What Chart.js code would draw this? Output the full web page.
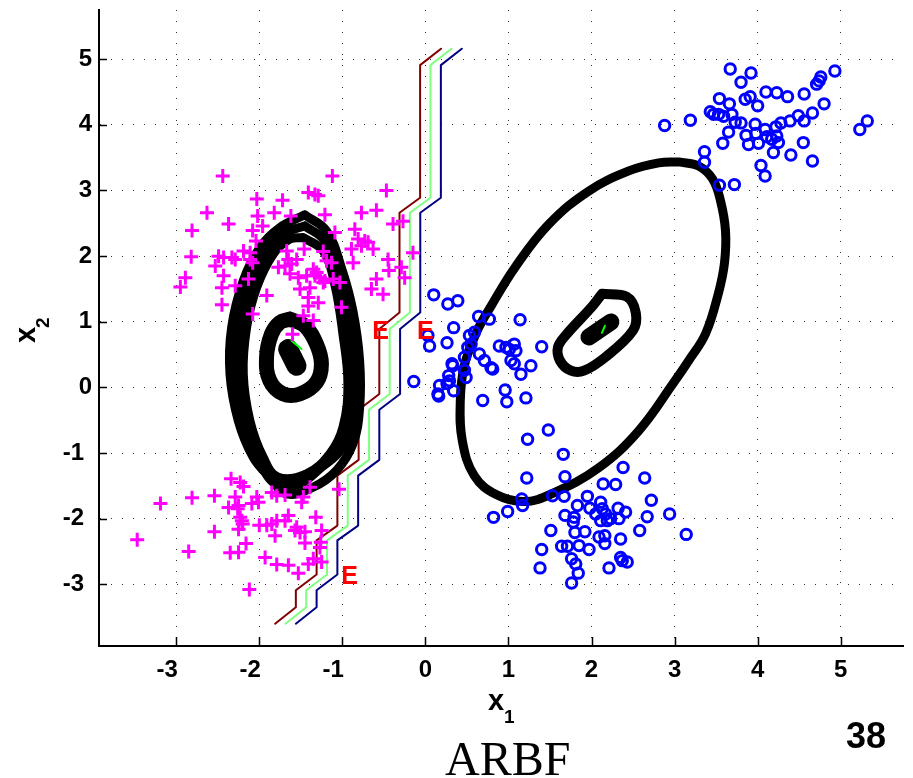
<!DOCTYPE html>
<html>
<head>
<meta charset="utf-8">
<script src="https://cdn.jsdelivr.net/npm/chart.js@4.4.1/dist/chart.umd.min.js"></script>
<style>
    html, body { margin: 0; padding: 0; background: #fff; }
    #wrap { width: 913px; height: 778px; }
</style>
</head>
<body>
<div id="wrap"><canvas id="myChart" width="913" height="778"></canvas></div>
<script>
// Osie
var xTicks = [-3, -2, -1, 0, 1, 2, 3, 4, 5];
var yTicks = [-3, -2, -1, 0, 1, 2, 3, 4, 5];
var xRange = [-3.93, 5.75];
var yRange = [-3.94, 5.75];

// Klasa 1 (+)
var plusUpper = [
    [-2.44,3.22],[-1.12,3.22],[-0.47,3.0],[-1.41,2.97],[-1.33,2.94],[-1.29,2.92],[-2.03,2.87],[-1.72,2.85],
    [-2.63,2.66],[-1.82,2.66],[-1.62,2.61],[-2.02,2.61],[-1.21,2.63],[-0.77,2.66],[-0.59,2.70],[-2.37,2.49],
    [-1.96,2.46],[-0.39,2.49],[-0.27,2.53],[-2.81,2.39],[-2.08,2.39],[-0.85,2.41],[-1.09,2.36],[-2.04,2.23],
    [-0.81,2.26],[-0.73,2.23],[-0.69,2.21],[-0.77,2.16],[-0.63,2.11],[-0.89,2.11],[-1.23,2.07],[-1.46,2.11],
    [-1.67,2.08],[-2.19,2.08],[-2.11,2.05],[-2.82,1.99],[-2.49,2.0],[-2.43,1.98],[-2.33,1.98],[-2.29,1.95],
    [-2.11,1.95],[-2.08,1.90],[-1.65,1.95],[-1.55,1.95],[-1.19,1.93],[-1.13,1.90],[-0.87,1.90],[-0.45,1.95],
    [-0.44,1.78],[-0.29,1.83],[-0.25,1.67],[-0.15,2.05],[-2.53,1.85],[-1.77,1.83],[-1.69,1.85],[-1.61,1.88],
    [-1.35,1.80],[-1.31,1.75],[-1.33,1.70],[-1.27,1.67],[-1.43,1.70],[-1.53,1.67],[-1.63,1.73],[-1.21,1.62],
    [-1.11,1.65],[-1.03,1.60],[-2.43,1.70],[-2.89,1.67],[-2.95,1.53],[-2.45,1.52],[-2.29,1.55],[-2.13,1.65],
    [-1.51,1.50],[-1.39,1.52],[-1.23,1.60],[-0.65,1.50],[-0.59,1.65],[-0.51,1.42],[-1.91,1.40],[-2.45,1.26],
    [-1.41,1.37],[-1.29,1.29],[-1.41,1.24],[-1.01,1.22],[-2.08,1.12],[-1.47,1.09],[-1.35,1.02],[-1.60,0.81]
];
var plusLower = [
    [-2.34,-1.39],[-2.23,-1.45],[-2.19,-1.51],[-3.19,-1.77],[-2.81,-1.68],[-2.54,-1.65],[-2.29,-1.67],[-2.37,-1.83],
    [-2.25,-1.80],[-2.26,-1.85],[-2.09,-1.77],[-2.03,-1.67],[-2.01,-1.75],[-1.85,-1.60],[-1.79,-1.65],[-1.69,-1.64],
    [-1.47,-1.67],[-1.49,-1.75],[-1.04,-1.55],[-1.39,-1.52],[-2.23,-1.98],[-2.21,-2.03],[-2.20,-2.08],[-2.25,-2.16],
    [-2.0,-2.1],[-1.91,-2.1],[-1.85,-2.08],[-1.79,-2.03],[-1.69,-2.03],[-1.65,-1.95],[-1.55,-2.13],[-1.57,-2.18],
    [-1.51,-2.21],[-1.45,-2.20],[-1.32,-1.98],[-1.25,-2.18],[-3.47,-2.32],[-2.54,-2.20],[-1.81,-2.26],[-1.45,-2.37],
    [-2.16,-2.38],[-1.26,-2.36],[-1.27,-2.44],[-2.85,-2.50],[-2.35,-2.52],[-2.25,-2.51],[-1.93,-2.59],[-1.79,-2.70],
    [-1.65,-2.71],[-1.41,-2.69],[-1.35,-2.61],[-1.25,-2.66],[-1.53,-2.83],[-2.12,-3.08]
];

// Klasa 2 (o)
var circMid = [
    [0.10,1.41],[0.27,1.27],[0.39,1.32],[0.03,0.79],[0.05,0.63],[-0.14,0.09],[0.34,0.91],[0.26,0.68],
    [0.64,1.08],[0.77,1.04],[0.53,0.79],[0.59,0.84],[0.55,0.66],[0.51,0.61],[0.47,0.46],[0.33,0.33],
    [0.47,0.26],[0.49,0.15],[0.28,0.18],[0.29,0.10],[0.17,0.03],[0.16,-0.13],[0.34,-0.05],[0.65,0.51],
    [0.71,0.41],[0.81,0.28],[0.89,0.63],[1.01,0.58],[1.07,0.66],[1.09,0.56],[1.03,0.41],[1.07,0.36],
    [1.15,0.20],[1.14,1.03],[1.27,0.33],[1.40,0.62],[0.96,-0.04],[0.98,-0.22],[1.21,-0.16],[0.69,-0.20],
    [0.26,0.06],[0.15,-0.10],[0.79,0.30],[0.97,0.61],[0.32,0.36]
];
var circLow = [
    [1.48,-0.65],[1.23,-0.79],[1.66,-1.02],[1.22,-1.38],[1.68,-1.36],[2.38,-1.22],[2.64,-1.38],[2.14,-1.47],
    [2.29,-1.48],[0.82,-1.98],[0.99,-1.89],[1.16,-1.70],[1.17,-1.80],[1.53,-1.65],[1.67,-1.66],[1.83,-1.80],
    [1.68,-1.95],[1.79,-1.98],[1.78,-2.05],[1.95,-1.66],[1.98,-1.84],[2.11,-1.75],[2.05,-1.93],[2.13,-1.85],
    [2.17,-1.93],[2.19,-2.03],[2.23,-2.00],[2.11,-2.03],[2.33,-2.00],[2.32,-1.84],[2.41,-1.90],[2.72,-1.72],
    [2.67,-1.97],[2.94,-1.93],[3.14,-2.24],[2.58,-2.18],[1.51,-2.18],[1.80,-2.21],[1.92,-2.20],[2.09,-2.28],
    [2.16,-2.26],[2.16,-2.38],[2.35,-2.31],[1.40,-2.47],[1.64,-2.42],[1.71,-2.42],[1.85,-2.41],[1.97,-2.47],
    [1.76,-2.61],[1.81,-2.69],[2.35,-2.59],[2.37,-2.64],[2.43,-2.66],[1.38,-2.75],[1.84,-2.83],[2.21,-2.75],
    [1.76,-2.98]
];
var circTop = [
    [3.67,4.85],[3.92,4.79],[3.80,4.65],[4.93,4.82],[4.76,4.73],[4.74,4.67],[4.71,4.62],[4.10,4.50],
    [4.23,4.49],[4.36,4.43],[4.56,4.47],[3.54,4.40],[3.85,4.39],[3.91,4.43],[3.66,4.32],[4.00,4.29],
    [4.80,4.32],[3.43,4.20],[3.47,4.16],[3.53,4.16],[3.59,4.13],[3.69,4.16],[3.73,4.04],[2.88,3.99],
    [3.19,4.07],[3.80,4.03],[3.97,4.01],[4.09,3.93],[4.22,3.97],[4.28,4.03],[4.39,4.06],[4.49,4.14],
    [4.56,4.06],[4.66,4.18],[5.23,3.93],[5.32,4.06],[3.65,3.89],[3.58,3.72],[3.86,3.84],[3.89,3.70],
    [3.98,3.87],[4.01,3.72],[4.11,3.82],[4.17,3.78],[4.23,3.83],[4.25,3.73],[4.19,3.58],[4.40,3.54],
    [4.55,3.73],[4.66,3.45],[3.36,3.59],[3.36,3.43],[4.04,3.38],[4.09,3.22],[3.54,3.08],[3.72,3.09]
];

// Granice decyzyjne
var bndRed = [
    [0.188,5.16],[-0.064,4.91],[-0.064,2.89],[-0.312,2.66],[-0.312,1.14],[-0.555,0.89],[-0.555,-0.10],[-0.804,-0.34],
    [-0.804,-1.105],[-1.06,-1.344],[-1.06,-2.105],[-1.31,-2.33],[-1.31,-2.85],[-1.56,-3.09],[-1.56,-3.35],[-1.81,-3.60]
];
var bndGreen = [
    [0.313,5.16],[0.061,4.91],[0.061,2.89],[-0.187,2.66],[-0.187,1.14],[-0.43,0.89],[-0.43,-0.10],[-0.68,-0.34],
    [-0.68,-1.105],[-0.935,-1.344],[-0.935,-2.105],[-1.185,-2.33],[-1.185,-2.85],[-1.435,-3.09],[-1.435,-3.35],[-1.685,-3.60]
];
var bndBlue = [
    [0.438,5.16],[0.186,4.91],[0.186,2.89],[-0.062,2.66],[-0.062,1.14],[-0.305,0.89],[-0.305,-0.10],[-0.555,-0.34],
    [-0.555,-1.105],[-0.81,-1.344],[-0.81,-2.105],[-1.06,-2.33],[-1.06,-2.85],[-1.31,-3.09],[-1.31,-3.35],[-1.56,-3.60]
];

// Kontury (elipsy)
var leftOuterA = [
    [-1.453,2.629],[-1.192,2.385],[-1.012,1.826],[-0.873,1.167],[-0.792,0.406],[-0.792,-0.304],[-0.873,-0.861],
    [-1.072,-1.268],[-1.353,-1.522],[-1.672,-1.623],[-1.873,-1.370],[-2.073,-1.065],[-2.253,-0.507],[-2.353,0.204],
    [-2.333,0.913],[-2.193,1.624],[-1.993,2.131],[-1.753,2.435],[-1.453,2.629]
];
var leftOuterB = [
    [-1.453,2.461],[-1.212,2.233],[-1.053,1.700],[-0.933,0.989],[-0.864,0.228],[-0.892,-0.457],[-1.012,-0.938],
    [-1.252,-1.218],[-1.513,-1.470],[-1.773,-1.496],[-1.972,-1.192],[-2.173,-0.507],[-2.273,0.204],[-2.241,0.913],
    [-2.113,1.574],[-1.912,2.081],[-1.693,2.350],[-1.453,2.461]
];
var leftOuterC = [
    [-1.473,2.283],[-1.233,2.081],[-1.092,1.574],[-0.993,0.813],[-0.933,0.052],[-0.993,-0.609],[-1.152,-1.014],
    [-1.432,-1.318],[-1.773,-1.370],[-1.953,-1.065],[-2.113,-0.507],[-2.193,0.204],[-2.153,0.913],[-2.032,1.522],
    [-1.833,2.030],[-1.633,2.259],[-1.473,2.283]
];
var leftInner = [
    [-1.633,1.041],[-1.453,0.939],[-1.312,0.661],[-1.252,0.356],[-1.312,0.076],[-1.513,-0.100],[-1.713,-0.100],
    [-1.873,0.102],[-1.913,0.457],[-1.853,0.813],[-1.753,0.989],[-1.633,1.041]
];
var leftCore = [[-1.653,0.584],[-1.552,0.330]];
var rightOuter = [
    [3.049,3.435],[3.289,3.374],[3.457,3.176],[3.553,2.842],[3.613,2.385],[3.601,1.898],[3.529,1.441],[3.373,0.817],
    [3.169,0.406],[2.989,0.072],[2.569,-0.659],[2.089,-1.222],[1.525,-1.618],[1.188,-1.740],[0.852,-1.633],
    [0.588,-1.344],[0.444,-0.811],[0.420,-0.202],[0.468,0.330],[0.624,0.863],[0.792,1.243],[1.092,1.852],
    [1.489,2.491],[1.969,2.994],[2.449,3.298],[2.809,3.420],[3.049,3.435]
];
var rightInner = [
    [2.125,1.426],[2.425,1.381],[2.533,1.137],[2.497,0.863],[2.173,0.467],[1.909,0.254],[1.753,0.254],[1.621,0.406],
    [1.597,0.619],[1.705,0.817],[1.993,1.213],[2.125,1.426]
];
var rightCore = [[1.969,0.769],[2.233,0.998]];
var greenLeft = [[-1.612,0.711],[-1.492,0.584]];
var greenRight = [[2.125,0.832],[2.161,0.939]];

// Znaczniki E
var ePts = [[-0.54,0.863],[0.0,0.863],[-0.912,-2.88]];

function pts(arr) {
    return arr.map(function (p) { return { x: p[0], y: p[1] }; });
}

function curve(arr, width, color, tension) {
    return {
        data: pts(arr),
        showLine: true,
        pointRadius: 0,
        borderColor: color,
        borderWidth: width,
        tension: tension,
        borderCapStyle: 'round',
        borderJoinStyle: 'round',
        fill: false
    };
}

var FONT = '"Liberation Sans", Arial, sans-serif';

// Rysowanie tekstów i kresek osi
var extras = {
    id: 'extras',
    afterDraw: function (chart) {
        var ctx = chart.ctx;
        var xs = chart.scales.x;
        var ys = chart.scales.y;
        var area = chart.chartArea;
        ctx.save();
        // kreski osi do wewnatrz
        ctx.strokeStyle = '#000';
        ctx.lineWidth = 1.5;
        ctx.beginPath();
        xTicks.forEach(function (v) {
            var px = Math.round(xs.getPixelForValue(v)) + 0.5;
            ctx.moveTo(px, area.bottom);
            ctx.lineTo(px, area.bottom - 9);
        });
        yTicks.forEach(function (v) {
            var py = Math.round(ys.getPixelForValue(v)) + 0.5;
            ctx.moveTo(area.left, py);
            ctx.lineTo(area.left + 8, py);
        });
        ctx.stroke();

        // E
        ctx.fillStyle = '#ff0000';
        ctx.font = 'bold 25px ' + FONT;
        ctx.textAlign = 'center';
        ctx.textBaseline = 'middle';
        ePts.forEach(function (p) {
            ctx.fillText('E', xs.getPixelForValue(p[0]), ys.getPixelForValue(p[1]) + 1);
        });

        // x1
        ctx.fillStyle = '#000';
        ctx.textAlign = 'left';
        ctx.textBaseline = 'alphabetic';
        ctx.font = 'bold 29px ' + FONT;
        ctx.fillText('x', 488, 710);
        ctx.font = 'bold 19px ' + FONT;
        ctx.fillText('1', 504, 723);

        // x2
        ctx.save();
        ctx.translate(35, 343);
        ctx.rotate(-Math.PI / 2);
        ctx.font = 'bold 29px ' + FONT;
        ctx.fillText('x', 0, 0);
        ctx.font = 'bold 19px ' + FONT;
        ctx.fillText('2', 15, 14);
        ctx.restore();

        // numer slajdu
        ctx.font = 'bold 36px ' + FONT;
        ctx.textAlign = 'center';
        ctx.textBaseline = 'alphabetic';
        ctx.fillText('38', 866, 748);

        // podpis
        ctx.font = '48px "Liberation Serif", "Times New Roman", serif';
        ctx.textAlign = 'left';
        ctx.fillText('ARBF', 445, 775);
        ctx.restore();
    }
};

var ctx = document.getElementById('myChart').getContext('2d');

var chart = new Chart(ctx, {
    type: 'scatter',
    data: {
        datasets: [
            {
                data: pts(plusUpper.concat(plusLower)),
                pointStyle: 'cross',
                pointRadius: 7,
                borderColor: '#ff00ff',
                borderWidth: 3
            },
            {
                data: pts(circMid.concat(circLow, circTop)),
                pointStyle: 'circle',
                pointRadius: 5.2,
                borderColor: '#0000ff',
                backgroundColor: 'rgba(0,0,0,0)',
                borderWidth: 3
            },
            curve(greenLeft, 2, '#00ff00', 0),
            curve(greenRight, 2, '#00ff00', 0),
            curve(leftCore, 20, '#000', 0),
            curve(rightCore, 17, '#000', 0),
            curve(leftOuterA, 9, '#000', 0.4),
            curve(leftOuterB, 9, '#000', 0.4),
            curve(leftOuterC, 9, '#000', 0.4),
            curve(leftInner, 15, '#000', 0.4),
            curve(rightOuter, 9, '#000', 0.4),
            curve(rightInner, 10, '#000', 0.35),
            curve(bndRed, 2, '#800000', 0),
            curve(bndGreen, 2, '#80ff80', 0),
            curve(bndBlue, 2, '#000080', 0)
        ]
    },
    options: {
        responsive: false,
        animation: false,
        devicePixelRatio: 1,
        events: [],
        layout: { padding: { top: 9, right: 8, left: 0, bottom: 0 } },
        plugins: {
            legend: { display: false },
            tooltip: { enabled: false }
        },
        scales: {
            x: {
                type: 'linear',
                min: xRange[0],
                max: xRange[1],
                afterBuildTicks: function (scale) {
                    scale.ticks = xTicks.map(function (v) { return { value: v }; });
                },
                afterFit: function (scale) {
                    scale.height = 132;
                    scale.paddingLeft = 0;
                    scale.paddingRight = 0;
                },
                ticks: {
                    includeBounds: false,
                    padding: 10,
                    color: '#000',
                    font: { family: FONT, size: 24, weight: 'bold' },
                    callback: function (v) { return v < 0 ? v + '\u2007\u2009' : String(v); }
                },
                grid: { color: 'rgba(0,0,0,0.8)', lineWidth: 1, drawTicks: false },
                border: { display: true, color: '#000', width: 2, dash: [1, 10] }
            },
            y: {
                type: 'linear',
                min: yRange[0],
                max: yRange[1],
                afterBuildTicks: function (scale) {
                    scale.ticks = yTicks.map(function (v) { return { value: v }; });
                },
                afterFit: function (scale) {
                    scale.width = 99;
                    scale.paddingTop = 0;
                    scale.paddingBottom = 0;
                },
                ticks: {
                    includeBounds: false,
                    padding: 7,
                    color: '#000',
                    font: { family: FONT, size: 24, weight: 'bold' },
                    callback: function (v) { return v < 0 ? v + '\u2004' : String(v); }
                },
                grid: { color: 'rgba(0,0,0,0.8)', lineWidth: 1, drawTicks: false },
                border: { display: true, color: '#000', width: 2, dash: [1, 10] }
            }
        }
    },
    plugins: [extras]
});
</script>
</body>
</html>
